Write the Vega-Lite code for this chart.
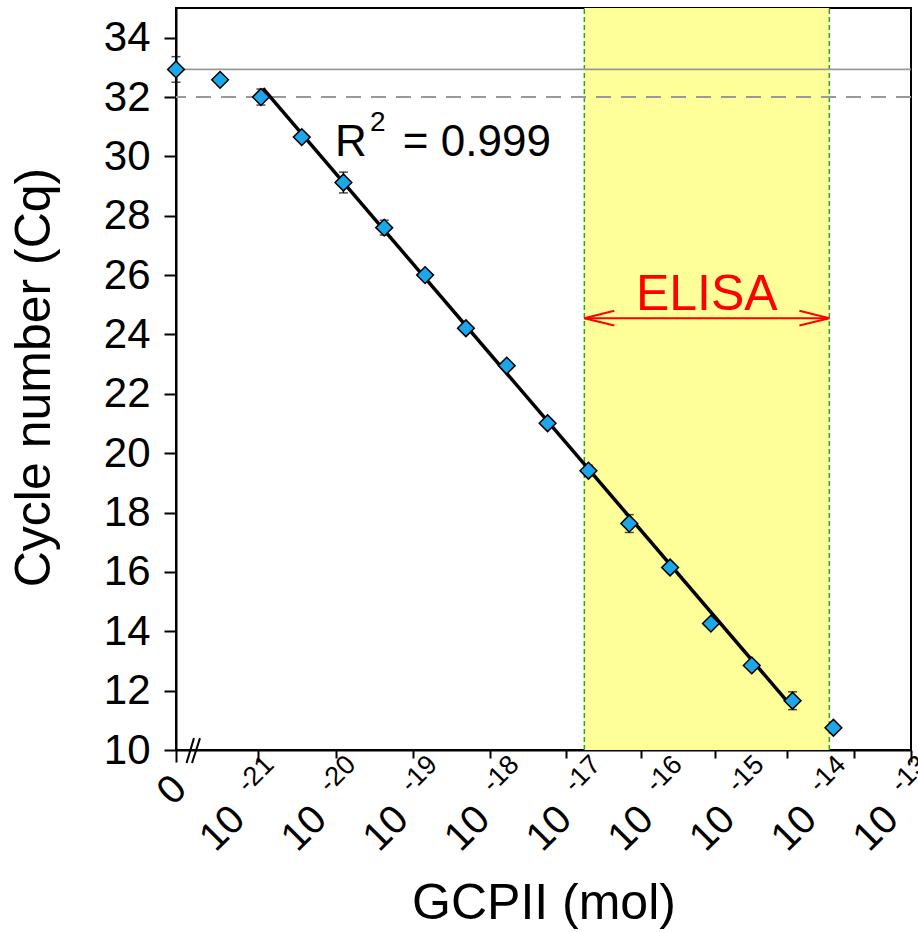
{
  "$schema": "https://vega.github.io/schema/vega-lite/v6.json",
  "width": 735,
  "height": 742,
  "autosize": {"type": "none"},
  "padding": {"left": 176, "top": 8, "right": 7, "bottom": 182},
  "background": "white",
  "config": {
    "view": {"stroke": "#000", "strokeWidth": 2},
    "font": "Liberation Sans",
    "axis": {
      "grid": false,
      "domainColor": "#000",
      "domainWidth": 2,
      "tickColor": "#000",
      "tickWidth": 2,
      "labelColor": "#000",
      "labelFont": "Liberation Sans",
      "labelFontSize": 42,
      "titleFont": "Liberation Sans",
      "titleFontSize": 50,
      "titleFontWeight": "normal",
      "titleColor": "#000"
    }
  },
  "datasets": {
    "pts": [
      {"x": -22.0, "y": 32.93, "lo": 32.5, "hi": 33.36},
      {"x": -21.46, "y": 32.58, "lo": 32.5, "hi": 32.66},
      {"x": -20.96, "y": 32.0, "lo": 31.73, "hi": 32.27},
      {"x": -20.46, "y": 30.65, "lo": 30.57, "hi": 30.73},
      {"x": -19.95, "y": 29.12, "lo": 28.77, "hi": 29.47},
      {"x": -19.45, "y": 27.6, "lo": 27.35, "hi": 27.85},
      {"x": -18.95, "y": 26.0, "lo": 25.92, "hi": 26.08},
      {"x": -18.45, "y": 24.21, "lo": 24.13, "hi": 24.29},
      {"x": -17.95, "y": 22.95, "lo": 22.87, "hi": 23.03},
      {"x": -17.45, "y": 21.01, "lo": 20.93, "hi": 21.09},
      {"x": -16.95, "y": 19.41, "lo": 19.23, "hi": 19.59},
      {"x": -16.45, "y": 17.63, "lo": 17.33, "hi": 17.93},
      {"x": -15.95, "y": 16.15, "lo": 16.03, "hi": 16.27},
      {"x": -15.45, "y": 14.26, "lo": 14.18, "hi": 14.34},
      {"x": -14.95, "y": 12.85, "lo": 12.77, "hi": 12.93},
      {"x": -14.45, "y": 11.66, "lo": 11.36, "hi": 11.96},
      {"x": -13.95, "y": 10.75, "lo": 10.67, "hi": 10.83}
    ],
    "decades": [
      {"x": -21, "e": "-21"},
      {"x": -20, "e": "-20"},
      {"x": -19, "e": "-19"},
      {"x": -18, "e": "-18"},
      {"x": -17, "e": "-17"},
      {"x": -16, "e": "-16"},
      {"x": -15, "e": "-15"},
      {"x": -14, "e": "-14"},
      {"x": -13, "e": "-13"}
    ]
  },
  "layer": [
    {
      "data": {"values": [{"x0": -17, "x1": -14, "y0": 10, "y1": 35}]},
      "mark": {"type": "rect", "color": "#FFFF99"},
      "encoding": {
        "x": {
          "field": "x0",
          "type": "quantitative",
          "scale": {"domain": [-22, -13], "nice": false, "zero": false},
          "axis": {
            "title": "GCPII (mol)",
            "titleY": 168,
            "titleBaseline": "alphabetic",
            "labels": false,
            "tickSize": {"condition": {"test": "abs(datum.value - round(datum.value)) < 0.001", "value": 12}, "value": 8},
            "values": [-22, -21.52288, -21.39794, -21.30103, -21.22185, -21.1549, -21.09691, -21.04576,
              -21, -20.69897, -20.52288, -20.39794, -20.30103, -20.22185, -20.1549, -20.09691, -20.04576,
              -20, -19.69897, -19.52288, -19.39794, -19.30103, -19.22185, -19.1549, -19.09691, -19.04576,
              -19, -18.69897, -18.52288, -18.39794, -18.30103, -18.22185, -18.1549, -18.09691, -18.04576,
              -18, -17.69897, -17.52288, -17.39794, -17.30103, -17.22185, -17.1549, -17.09691, -17.04576,
              -17, -16.69897, -16.52288, -16.39794, -16.30103, -16.22185, -16.1549, -16.09691, -16.04576,
              -16, -15.69897, -15.52288, -15.39794, -15.30103, -15.22185, -15.1549, -15.09691, -15.04576,
              -15, -14.69897, -14.52288, -14.39794, -14.30103, -14.22185, -14.1549, -14.09691, -14.04576,
              -14, -13.69897, -13.52288, -13.39794, -13.30103, -13.22185, -13.1549, -13.09691, -13.04576, -13]
          }
        },
        "x2": {"field": "x1"},
        "y": {
          "field": "y0",
          "type": "quantitative",
          "scale": {"domain": [10, 35], "nice": false, "zero": false},
          "axis": {
            "title": "Cycle number (Cq)",
            "titleX": -142,
            "titleY": 369,
            "titleAlign": "center",
            "titleBaseline": "middle",
            "titleAngle": -90,
            "values": [10, 12, 14, 16, 18, 20, 22, 24, 26, 28, 30, 32, 34],
            "tickSize": 12,
            "labelPadding": 14
          }
        },
        "y2": {"field": "y1"}
      }
    },
    {
      "data": {"values": [{"x": -17, "y0": 10, "y1": 35}, {"x": -14, "y0": 10, "y1": 35}]},
      "mark": {"type": "rule", "color": "#2E9E2E", "strokeWidth": 1.5, "strokeDash": [5, 3]},
      "encoding": {
        "x": {"field": "x", "type": "quantitative"},
        "y": {"field": "y0", "type": "quantitative", "title": "Cycle number (Cq)"},
        "y2": {"field": "y1"}
      }
    },
    {
      "data": {"values": [{"y": 32.93}]},
      "mark": {"type": "rule", "color": "#999999", "strokeWidth": 1.8},
      "encoding": {"y": {"field": "y", "type": "quantitative", "title": "Cycle number (Cq)"}}
    },
    {
      "data": {"values": [{"y": 32.0}]},
      "mark": {"type": "rule", "color": "#999999", "strokeWidth": 2, "strokeDash": [15, 10]},
      "encoding": {"y": {"field": "y", "type": "quantitative", "title": "Cycle number (Cq)"}}
    },
    {
      "data": {"values": [{"x": -20.935, "y": 32.29}, {"x": -14.448, "y": 11.42}]},
      "mark": {"type": "line", "color": "#000", "strokeWidth": 3.5},
      "encoding": {
        "x": {"field": "x", "type": "quantitative"},
        "y": {"field": "y", "type": "quantitative", "title": "Cycle number (Cq)"}
      }
    },
    {
      "data": {"name": "pts"},
      "mark": {"type": "errorbar", "color": "#000", "ticks": {"size": 9, "thickness": 1.5, "color": "#000"}, "rule": {"strokeWidth": 1.5, "color": "#000"}},
      "encoding": {
        "x": {"field": "x", "type": "quantitative"},
        "y": {"field": "lo", "type": "quantitative", "title": "Cycle number (Cq)"},
        "y2": {"field": "hi"}
      }
    },
    {
      "data": {"name": "pts"},
      "mark": {"type": "point", "shape": "diamond", "filled": true, "fill": "#1AA7EC", "stroke": "#000", "strokeWidth": 1.5, "size": 280, "opacity": 1},
      "encoding": {
        "x": {"field": "x", "type": "quantitative"},
        "y": {"field": "y", "type": "quantitative", "title": "Cycle number (Cq)"}
      }
    },
    {
      "data": {"values": [{"x": -17, "x2": -14, "y": 24.55}]},
      "mark": {"type": "rule", "color": "#FF0000", "strokeWidth": 2},
      "encoding": {
        "x": {"field": "x", "type": "quantitative"},
        "x2": {"field": "x2"},
        "y": {"field": "y", "type": "quantitative", "title": "Cycle number (Cq)"}
      }
    },
    {
      "data": {"values": [
        {"g": "L", "o": 1, "x": -16.633, "y": 24.8},
        {"g": "L", "o": 2, "x": -17.0, "y": 24.55},
        {"g": "L", "o": 3, "x": -16.633, "y": 24.3},
        {"g": "R", "o": 1, "x": -14.367, "y": 24.8},
        {"g": "R", "o": 2, "x": -14.0, "y": 24.55},
        {"g": "R", "o": 3, "x": -14.367, "y": 24.3}
      ]},
      "mark": {"type": "line", "color": "#FF0000", "strokeWidth": 2},
      "encoding": {
        "x": {"field": "x", "type": "quantitative"},
        "y": {"field": "y", "type": "quantitative", "title": "Cycle number (Cq)"},
        "detail": {"field": "g"},
        "order": {"field": "o"}
      }
    },
    {
      "data": {"values": [{"x": -15.5, "y": 24.84, "t": "ELISA"}]},
      "mark": {"type": "text", "color": "#FF0000", "fontSize": 50, "align": "center", "baseline": "alphabetic", "font": "Liberation Sans"},
      "encoding": {
        "x": {"field": "x", "type": "quantitative"},
        "y": {"field": "y", "type": "quantitative", "title": "Cycle number (Cq)"},
        "text": {"field": "t"}
      }
    },
    {
      "data": {"values": [{"x": -20.054, "y": 30.01, "t": "R"}, {"x": -19.222, "y": 30.01, "t": "= 0.999"}]},
      "mark": {"type": "text", "color": "#000", "fontSize": 44, "align": "left", "baseline": "alphabetic", "font": "Liberation Sans"},
      "encoding": {
        "x": {"field": "x", "type": "quantitative"},
        "y": {"field": "y", "type": "quantitative", "title": "Cycle number (Cq)"},
        "text": {"field": "t"}
      }
    },
    {
      "data": {"values": [{"x": -19.625, "y": 30.85, "t": "2"}]},
      "mark": {"type": "text", "color": "#000", "fontSize": 28, "align": "left", "baseline": "alphabetic", "font": "Liberation Sans"},
      "encoding": {
        "x": {"field": "x", "type": "quantitative"},
        "y": {"field": "y", "type": "quantitative", "title": "Cycle number (Cq)"},
        "text": {"field": "t"}
      }
    },
    {
      "data": {"values": [{"x": -22, "t": "0"}]},
      "mark": {"type": "text", "color": "#000", "fontSize": 40, "align": "right", "baseline": "alphabetic", "angle": 315, "dx": -20, "dy": 38, "font": "Liberation Sans"},
      "encoding": {
        "x": {"field": "x", "type": "quantitative"},
        "y": {"datum": 10, "type": "quantitative"},
        "text": {"field": "t"}
      }
    },
    {
      "data": {"name": "decades"},
      "mark": {"type": "text", "color": "#000", "fontSize": 40, "align": "right", "baseline": "alphabetic", "angle": 315, "dx": -58, "dy": 43, "font": "Liberation Sans"},
      "encoding": {
        "x": {"field": "x", "type": "quantitative"},
        "y": {"datum": 10, "type": "quantitative"},
        "text": {"value": "10"}
      }
    },
    {
      "data": {"name": "decades"},
      "mark": {"type": "text", "color": "#000", "fontSize": 27, "align": "left", "baseline": "alphabetic", "angle": 315, "dx": -38, "dy": 24, "font": "Liberation Sans"},
      "encoding": {
        "x": {"field": "x", "type": "quantitative"},
        "y": {"datum": 10, "type": "quantitative"},
        "text": {"field": "e"}
      }
    },
    {
      "data": {"values": [
        {"x": -21.871, "x2": -21.78, "y": 9.56, "y2": 10.4},
        {"x": -21.804, "x2": -21.706, "y": 9.56, "y2": 10.4}
      ]},
      "mark": {"type": "rule", "color": "#000", "strokeWidth": 2},
      "encoding": {
        "x": {"field": "x", "type": "quantitative"},
        "x2": {"field": "x2"},
        "y": {"field": "y", "type": "quantitative", "title": "Cycle number (Cq)"},
        "y2": {"field": "y2"}
      }
    }
  ]
}
